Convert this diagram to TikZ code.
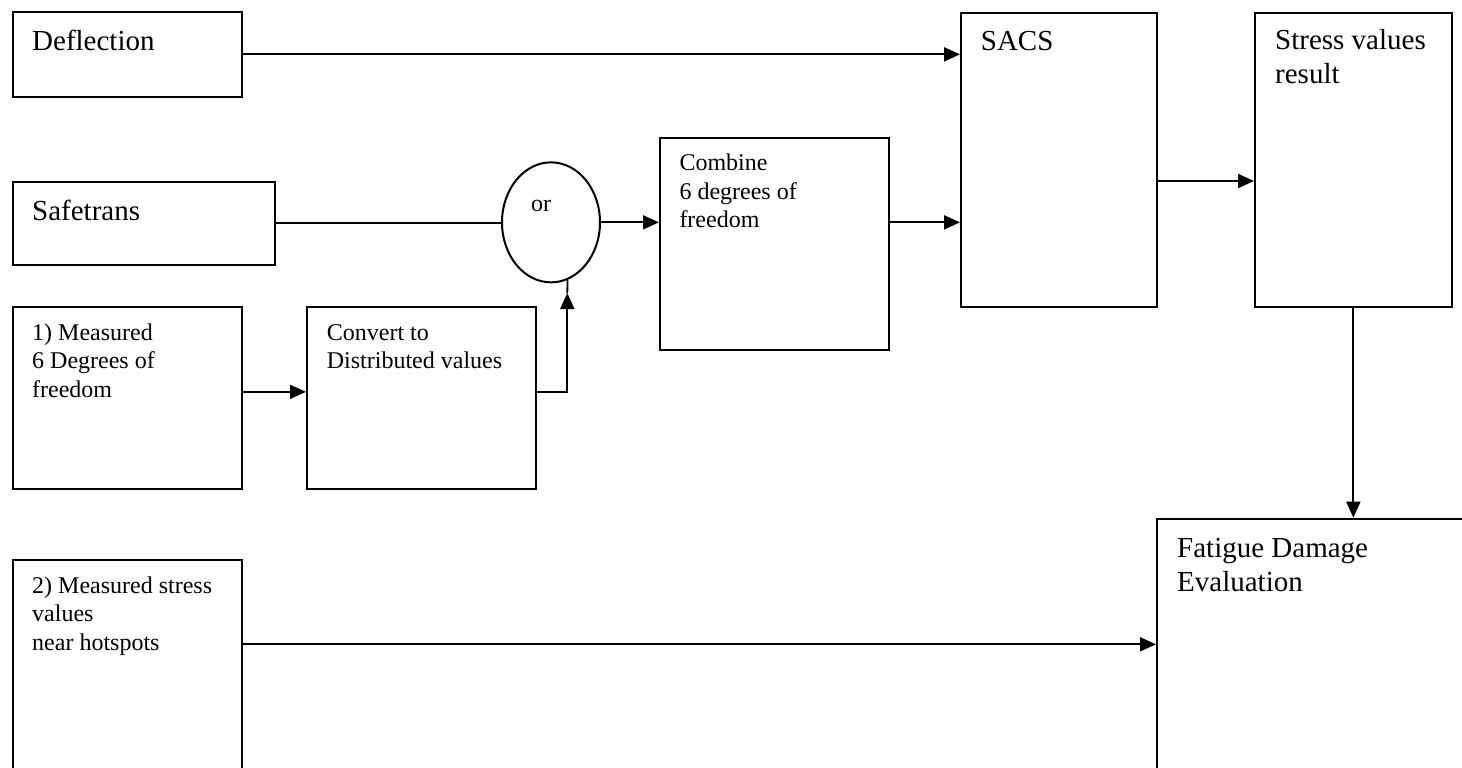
\documentclass[tikz,border=0pt]{standalone}
\usepackage{fontspec}
\setmainfont{Liberation Serif}
\usetikzlibrary{arrows.meta,shapes.geometric}
\newcommand\bigtxt{\fontsize{29}{34}\selectfont}
\newcommand\smalltxt{\fontsize{24}{28.5}\selectfont}
\tikzset{
  box/.style={draw, line width=2pt, inner sep=0pt, anchor=north west},
  lblbig/.style={anchor=base west, inner sep=0pt, font=\bigtxt},
  lblsmall/.style={anchor=base west, inner sep=0pt, font=\smalltxt},
  arr/.style={line width=1.8pt, -{Triangle[length=16pt,width=14pt]}},
  conn/.style={line width=1.8pt}
}
\begin{document}
\begin{tikzpicture}[x=1pt,y=-1pt]
\useasboundingbox (0,0) rectangle (1462,768);
% boxes
\node[box, minimum width=228.7pt, minimum height=84.7pt] (defl) at (12,11) {};
\node[box, minimum width=262pt, minimum height=83.3pt] (safe) at (12,180.7) {};
\node[box, minimum width=228.7pt, minimum height=182.3pt] (mone) at (12,305.7) {};
\node[box, minimum width=229.3pt, minimum height=182.3pt] (conv) at (306,305.7) {};
\node[box, minimum width=229pt, minimum height=211.4pt] (comb) at (659,137.3) {};
\node[box, minimum width=196pt, minimum height=294pt] (sacs) at (960,11.7) {};
\node[box, minimum width=196.7pt, minimum height=294pt] (stress) at (1254,11.7) {};
\node[box, minimum width=320pt, minimum height=260pt] (fat) at (1156,517.7) {};
\node[box, minimum width=228.7pt, minimum height=220pt] (mtwo) at (12,559.3) {};
\node[draw, ellipse, line width=2pt, inner sep=0pt, minimum width=98pt, minimum height=120pt] (or) at (551,222.35) {};
% texts
\node[lblbig] (defl-t) at ([xshift=20pt,yshift=-40pt]defl.north west) {Deflection};
\node[lblbig] (safe-t) at ([xshift=20pt,yshift=-39.5pt]safe.north west) {Safetrans};
\node[lblsmall] (mone-t) at ([xshift=20pt,yshift=-34.3pt]mone.north west)
  {\begin{tabular}[t]{@{}l@{}}1) Measured\\6 Degrees of\\freedom\end{tabular}};
\node[lblsmall] (conv-t) at ([xshift=20.7pt,yshift=-34.3pt]conv.north west)
  {\begin{tabular}[t]{@{}l@{}}Convert to\\Distributed values\end{tabular}};
\node[lblsmall] (comb-t) at ([xshift=20.3pt,yshift=-33.4pt]comb.north west)
  {\begin{tabular}[t]{@{}l@{}}Combine\\6 degrees of\\freedom\end{tabular}};
\node[lblbig] (sacs-t) at ([xshift=20.7pt,yshift=-39.3pt]sacs.north west) {SACS};
\node[lblbig] (stress-t) at ([xshift=21pt,yshift=-38.3pt]stress.north west)
  {\begin{tabular}[t]{@{}l@{}}Stress values\\result\end{tabular}};
\node[lblbig] (fat-t) at ([xshift=21pt,yshift=-39.6pt]fat.north west)
  {\begin{tabular}[t]{@{}l@{}}Fatigue Damage\\Evaluation\end{tabular}};
\node[lblsmall] (mtwo-t) at ([xshift=20pt,yshift=-34pt]mtwo.north west)
  {\begin{tabular}[t]{@{}l@{}}2) Measured stress\\values\\near hotspots\end{tabular}};
\node[lblsmall] (or-t) at (531,211) {or};
% connectors
\draw[arr] (defl.east) -- (defl.east -| sacs.west);
\draw[conn] (safe.east) -- (safe.east -| or.west);
\draw[arr] (or.east) -- (or.east -| comb.west);
\draw[arr] (comb.east |- or.east) -- (sacs.west |- or.east);
\draw[arr] ([yshift=-21.3pt]sacs.east) -- ([yshift=-21.3pt]sacs.east -| stress.west);
\draw[arr] (stress.south) -- (stress.south |- fat.north);
\draw[arr] ([yshift=6pt]mone.east) -- ([yshift=6pt]mone.east -| conv.west);
\coordinate (ortip) at (567.3,293);
\draw[arr] ([yshift=6pt]conv.east) -| (ortip);
\draw[conn] (ortip) -- (or.-74);
\draw[arr] ([yshift=-85pt]mtwo.north east) -- ([yshift=-85pt]mtwo.north east -| fat.west);
\end{tikzpicture}
\end{document}
